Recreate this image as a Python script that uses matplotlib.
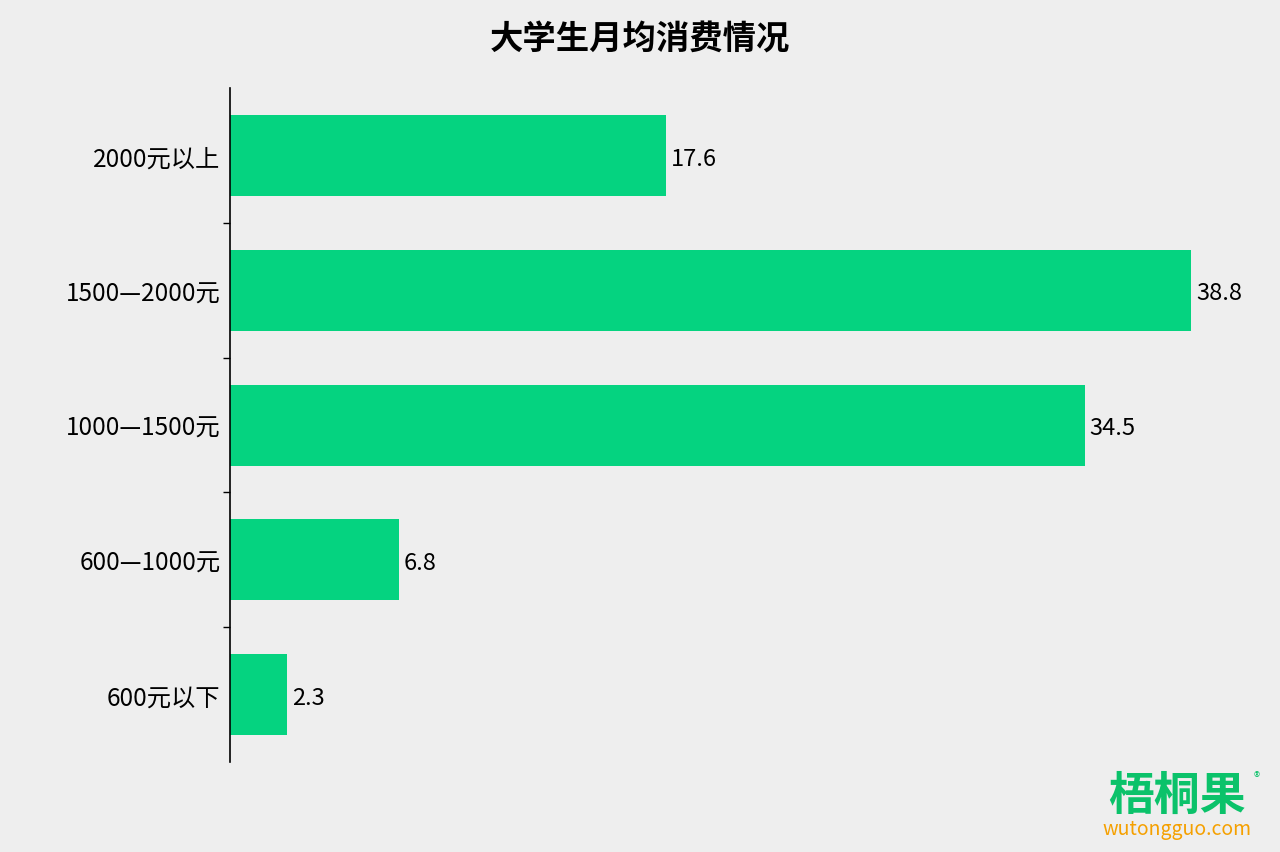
import matplotlib.pyplot as plt
from matplotlib.ticker import FixedLocator

plt.rcParams['font.family'] = ['Noto Sans CJK SC', 'DejaVu Sans']

categories = ['2000元以上', '1500—2000元', '1000—1500元', '600—1000元', '600元以下']
values = [17.6, 38.8, 34.5, 6.8, 2.3]

bg = '#eeeeee'
fig = plt.figure(figsize=(12.8, 8.53), dpi=100, facecolor=bg)
ax = fig.add_axes([0.1797, 0.1055, 0.954 - 0.1797, 0.8955 - 0.1055], facecolor=bg)

pos = list(range(len(categories)))
bars = ax.barh(pos, values, height=0.6, color='#05d380')
ax.set_ylim(len(categories) - 0.5, -0.5)
ax.set_xlim(0, 40)

for b, v in zip(bars, values):
    ax.text(b.get_width() + 0.2, b.get_y() + b.get_height() / 2 + 0.02, f'{v}',
            va='center', ha='left', fontsize=17)

ax.set_yticks(pos)
ax.set_yticklabels(categories, fontsize=17.5)
ax.tick_params(axis='y', which='major', length=0, pad=7)
ax.yaxis.set_minor_locator(FixedLocator([p + 0.5 for p in pos[:-1]]))
ax.tick_params(axis='y', which='minor', length=5, width=1, color='black')
ax.set_xticks([])

for s in ['top', 'right', 'bottom']:
    ax.spines[s].set_visible(False)
ax.spines['left'].set_color('black')
ax.spines['left'].set_linewidth(1.2)

fig.text(0.5, 0.953, '大学生月均消费情况', ha='center', va='center',
         fontsize=24, fontweight='bold')

# logo
fig.text(0.9195, 0.066, '梧桐果', ha='center', va='center', fontsize=33,
         fontweight='bold', color='#0bc26a')
fig.text(0.9195, 0.027, 'wutongguo.com', ha='center', va='center', fontsize=14,
         color='#f5a000')
fig.text(0.982, 0.089, '®', ha='center', va='center', fontsize=9, color='#0bc26a')

fig.savefig('out.png', dpi=100, facecolor=bg)
